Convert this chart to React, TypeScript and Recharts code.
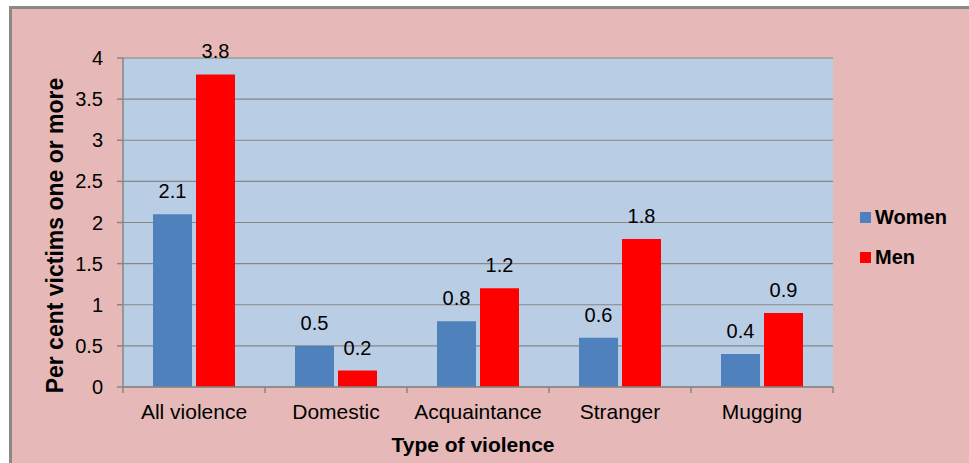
import React from "react";
import {
  BarChart, Bar, XAxis, YAxis, CartesianGrid, Legend, LabelList,
} from "recharts";

const categories = ["All violence", "Domestic", "Acquaintance", "Stranger", "Mugging"];
const women = [2.1, 0.5, 0.8, 0.6, 0.4];
const men = [3.8, 0.2, 1.2, 1.8, 0.9];
const yTicks = [0, 0.5, 1, 1.5, 2, 2.5, 3, 3.5, 4];
const seriesOrder = ["Women", "Men"];

const data = categories.map((name, i) => ({ name, women: women[i], men: men[i] }));

const FONT = "'Liberation Sans', Arial, sans-serif";
const AXIS_GRAY = "#868686";

// x ticks sit on category boundaries, like the Excel original
const XTick = (props: any) => {
  const { x, y, payload, index } = props;
  const half = payload?.offset ?? 71;
  const top = y - 11 - 6;
  return (
    <g>
      <line x1={x - half} x2={x - half} y1={top} y2={top + 6} stroke={AXIS_GRAY} strokeWidth={1.5} />
      {index === categories.length - 1 && (
        <line x1={x + half} x2={x + half} y1={top} y2={top + 6} stroke={AXIS_GRAY} strokeWidth={1.5} />
      )}
      <text x={x} y={y} dy={15} textAnchor="middle" fontSize={21} fontFamily={FONT} fill="#000">
        {payload.value}
      </text>
    </g>
  );
};

const LegendBox = ({ payload }: { payload?: { value: string; color: string }[] }) => {
  const items = [...(payload ?? [])].sort(
    (a, b) => seriesOrder.indexOf(a.value) - seriesOrder.indexOf(b.value)
  );
  return (
    <div style={{ fontFamily: FONT }}>
      {items.map((p) => (
        <div key={p.value} style={{ display: "flex", alignItems: "center", height: 40 }}>
          <div style={{ width: 11, height: 11, background: p.color, marginRight: 4 }} />
          <span style={{ fontWeight: "bold", fontSize: 20, color: "#000" }}>{p.value}</span>
        </div>
      ))}
    </div>
  );
};

export default function App() {
  return (
    <div style={{ position: "absolute", left: 9, top: 0, width: 960, height: 463, background: "#fff" }}>
      <div
        style={{
          position: "absolute", left: 0, top: 6, width: 957, height: 454,
          background: "#E6B9B8", borderLeft: "3px solid #898989", borderTop: "3px solid #898989",
        }}
      >
        <BarChart
          width={957}
          height={454}
          data={data}
          margin={{ top: 49, right: 26, bottom: 0, left: 0 }}
          barCategoryGap={30}
          barGap={4}
          style={{ fontFamily: FONT }}
        >
          <CartesianGrid fill="#B9CDE5" stroke={AXIS_GRAY} strokeWidth={1.2} vertical={false} fillOpacity={1} />
          <XAxis
            dataKey="name"
            height={76}
            axisLine={{ stroke: AXIS_GRAY, strokeWidth: 1.5 }}
            tickLine={false}
            tickSize={6}
            tickMargin={11}
            tick={<XTick />}
            interval={0}
            label={{
              value: "Type of violence",
              position: "insideBottom",
              offset: 11,
              dx: -5,
              style: { fontSize: 21, fontWeight: "bold", fill: "#000", fontFamily: FONT },
            }}
          />
          <YAxis
            width={111}
            domain={[0, 4]}
            ticks={yTicks}
            axisLine={{ stroke: AXIS_GRAY, strokeWidth: 1.5 }}
            tickLine={{ stroke: AXIS_GRAY, strokeWidth: 1.5 }}
            tickSize={6}
            tickMargin={14}
            tick={{ fontSize: 20, fill: "#000", fontFamily: FONT }}
            label={(props: any) => {
              const vb = props.viewBox;
              const cx = vb.x + 43;
              const cy = vb.y + vb.height / 2 + 13;
              return (
                <text
                  x={cx}
                  y={cy}
                  transform={`rotate(-90, ${cx}, ${cy})`}
                  textAnchor="middle"
                  dominantBaseline="central"
                  fontSize={23}
                  fontWeight="bold"
                  fontFamily={FONT}
                  fill="#000"
                >
                  Per cent victims one or more
                </text>
              );
            }}
          />
          <Legend
            layout="vertical"
            align="right"
            verticalAlign="middle"
            content={<LegendBox />}
            wrapperStyle={{ position: "absolute", left: 848, top: 188, width: 110, height: 80 }}
          />
          <Bar dataKey="women" name="Women" fill="#4F81BD" isAnimationActive={false}>
            <LabelList dataKey="women" position="top" offset={16} fontSize={20} fill="#000" fontFamily={FONT} />
          </Bar>
          <Bar dataKey="men" name="Men" fill="#FF0000" isAnimationActive={false}>
            <LabelList dataKey="men" position="top" offset={16} fontSize={20} fill="#000" fontFamily={FONT} />
          </Bar>
        </BarChart>
      </div>
    </div>
  );
}
